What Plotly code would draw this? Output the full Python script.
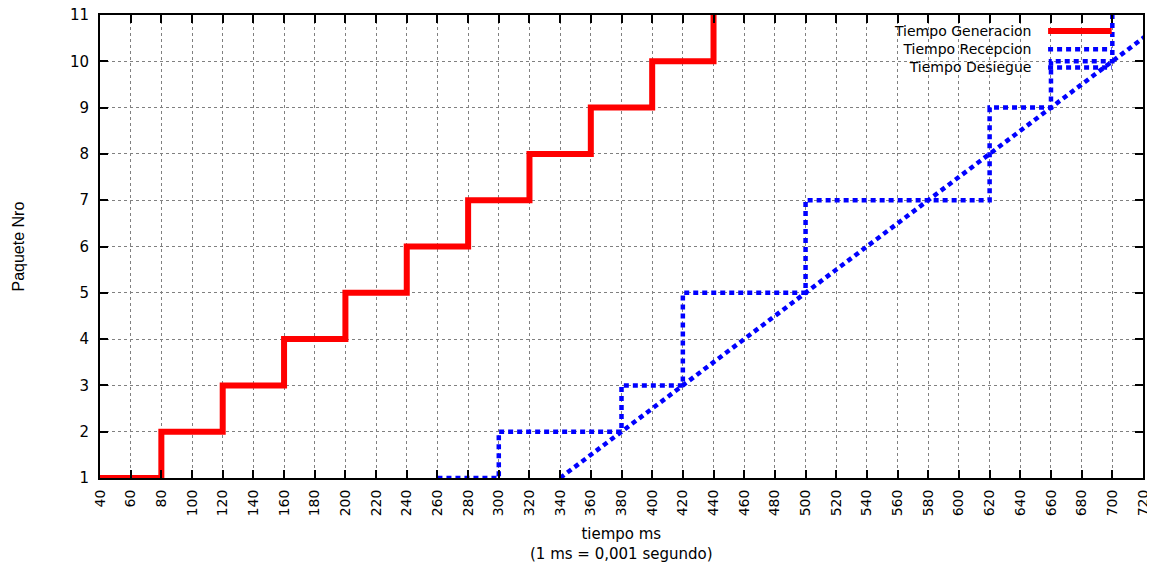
import plotly.graph_objects as go

# Data
gen_time = [40, 80, 120, 160, 200, 240, 280, 320, 360, 400, 440]
gen_pkt = [1, 2, 3, 4, 5, 6, 7, 8, 9, 10, 11]

rec_time = [260, 300, 380, 420, 420, 500, 500, 620, 620, 660, 700]
rec_pkt = [1, 2, 3, 4, 5, 6, 7, 8, 9, 10, 11]

des_time = [340, 380, 420, 460, 500, 540, 580, 620, 660, 700, 740]
des_pkt = [1, 2, 3, 4, 5, 6, 7, 8, 9, 10, 11]

x_ticks = list(range(40, 721, 20))
y_ticks = list(range(1, 12))

legend_names = ["Tiempo Generacion", "Tiempo Recepcion", "Tiempo Desiegue"]

FONT = "DejaVu Sans"
RED = "#ff0000"
BLUE = "#0000ff"
DASH = "5px,4px"

fig = go.Figure()
fig.add_trace(go.Scatter(x=gen_time, y=gen_pkt, mode="lines", line_shape="hv",
                         line=dict(color=RED, width=6), name=legend_names[0]))
fig.add_trace(go.Scatter(x=rec_time, y=rec_pkt, mode="lines", line_shape="hv",
                         line=dict(color=BLUE, width=4.5, dash=DASH), name=legend_names[1]))
fig.add_trace(go.Scatter(x=des_time, y=des_pkt, mode="lines",
                         line=dict(color=BLUE, width=4.5, dash=DASH), name=legend_names[2]))

axis_common = dict(
    showline=True, linecolor="black", linewidth=2, mirror="ticks",
    ticks="inside", ticklen=8, tickwidth=2, tickcolor="black",
    showgrid=True, gridcolor="#808080", gridwidth=1, griddash="dot",
    zeroline=False, automargin=False, ticklabeloverflow="allow",
)

fig.update_xaxes(range=[40, 720], tickvals=x_ticks, ticktext=[str(v) for v in x_ticks],
                 tickangle=-90, tickfont=dict(family=FONT, size=14, color="black"),
                 ticklabelstandoff=4, **axis_common)
fig.update_yaxes(range=[1, 11], tickvals=y_ticks, ticktext=[str(v) for v in y_ticks],
                 tickfont=dict(family=FONT, size=15, color="black"),
                 ticklabelstandoff=6, **axis_common)

# legend background box and samples (paper coords)
shapes = [dict(type="rect", xref="paper", yref="paper", x0=0.666, x1=0.983, y0=0.876, y1=1.0,
               fillcolor="white", line=dict(width=0), layer="between")]
FS_LEG = 14
row_px = FS_LEG * 1.3 / 463.0
rows_y = [0.9654, 0.9654 - row_px, 0.9654 - 2 * row_px]
sample_styles = [dict(color=RED, width=6), dict(color=BLUE, width=4.5, dash=DASH),
                 dict(color=BLUE, width=4.5, dash=DASH)]
for yy, st in zip(rows_y, sample_styles):
    shapes.append(dict(type="line", xref="paper", yref="paper", x0=0.909, x1=0.970,
                       y0=yy, y1=yy, line=st, layer="above"))

annotations = [
    dict(text="<br>".join(legend_names), xref="paper", yref="paper", x=0.8945, y=rows_y[1],
         xanchor="right", yanchor="middle", align="right", showarrow=False,
         font=dict(family=FONT, size=FS_LEG, color="black")),
    dict(text="Paquete Nro", xref="paper", yref="paper", x=-0.0786, y=0.5,
         xanchor="center", yanchor="middle", textangle=-90, showarrow=False,
         font=dict(family="Liberation Sans", size=16, color="black")),
    dict(text="tiempo ms<br>(1 ms = 0,001 segundo)", xref="paper", yref="paper", x=0.5, y=-0.1436,
         xanchor="center", yanchor="middle", align="center", showarrow=False,
         font=dict(family=FONT, size=15, color="black")),
]

# page body has an 8px default margin: compensate in figure size/margins
fig.update_layout(
    width=1147, height=558,
    margin=dict(l=92, r=12, t=7, b=88, autoexpand=False),
    paper_bgcolor="white", plot_bgcolor="white",
    showlegend=False,
    shapes=shapes, annotations=annotations,
)

fig.write_html("out.html")
